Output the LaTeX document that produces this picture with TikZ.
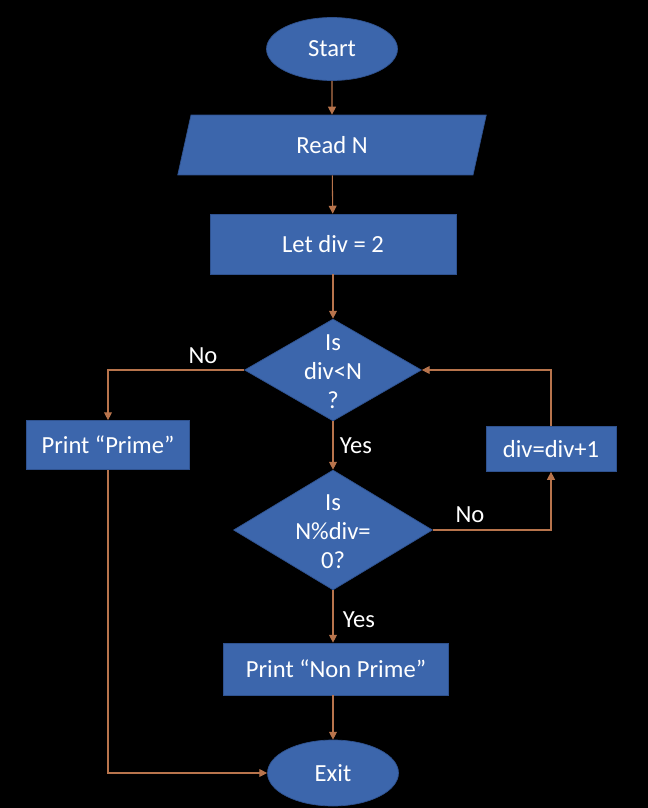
\documentclass[tikz,border=0pt]{standalone}
\usepackage{fontspec}
\setmainfont{Carlito}
\usepackage{xcolor}
\usetikzlibrary{shapes.geometric,arrows.meta,positioning}
\definecolor{boxblue}{RGB}{60,102,172}
\definecolor{boxedge}{RGB}{47,82,143}
\definecolor{flowline}{RGB}{184,116,76}
\tikzset{
  shapebox/.style={fill=boxblue, draw=boxedge, line width=0.4pt, text=white, inner sep=0pt, align=center},
  terminal/.style={shapebox, ellipse},
  procbox/.style={shapebox, rectangle},
  iobox/.style={shapebox, trapezium, trapezium left angle=79, trapezium right angle=101, trapezium stretches=true},
  decision/.style={shapebox, diamond},
  flow/.style={flowline, line width=0.6pt, -{Triangle[length=4.5pt,width=4.5pt]}},
  tag/.style={text=white, inner sep=1pt}
}
\begin{document}
\begin{tikzpicture}[x=0.02cm, y=-0.02cm, font=\fontsize{14}{16.5}\selectfont]
\fill [black] (0,0) rectangle (648,808);
\useasboundingbox (0,0) rectangle (648,808);

\node [terminal, minimum width=2.62cm, minimum height=1.26cm] (start) at (332,49) {Start};
\node [iobox, minimum width=6.18cm, minimum height=1.2cm] (read) at (332,145) {Read N};
\node [procbox, minimum width=4.92cm, minimum height=1.2cm] (init) at (333,244) {Let div = 2};
\node [decision, minimum width=3.54cm, minimum height=2.04cm] (test1) at (333,370) {};
\node [text=white, align=center] at ([yshift=-0.04cm]test1) {Is\\div<N\\?};
\node [procbox, minimum width=3.26cm, minimum height=0.98cm] (prime) at (108,445) {Print ``Prime''};
\node [procbox, minimum width=2.6cm, minimum height=0.9cm] (incr) at (551,449) {div=div+1};
\node [decision, minimum width=3.98cm, minimum height=2.4cm] (test2) at (333,530) {};
\node [text=white, align=center] at ([yshift=-0.04cm]test2) {Is\\N\%div=\\0?};
\node [procbox, minimum width=4.5cm, minimum height=1.04cm] (nonprime) at (336,669) {Print ``Non Prime''};
\node [terminal, minimum width=2.62cm, minimum height=1.32cm] (exit) at (333,773) {Exit};

\draw [flow] (start) -- (read);
\draw [flow] (read) -- (init);
\draw [flow] (init) -- (test1);
\draw [flow] (test1.west) -| (prime.north);
\draw [flow] (test1.south) -- (test2.north);
\draw [flow] (test2.east) -| (incr.south);
\draw [flow] (incr.north) |- (test1.east);
\draw [flow] (test2.south) -- (test2.south |- nonprime.north);
\draw [flow] (exit.north |- nonprime.south) -- (exit.north);
\draw [flow] (prime.south) |- (exit.west);

\node [tag] (lno1) at (203,356) {No};
\node [tag] (lyes1) at (356,446) {Yes};
\node [tag] (lno2) at (470,515) {No};
\node [tag] (lyes2) at (359,620) {Yes};
\end{tikzpicture}
\end{document}
